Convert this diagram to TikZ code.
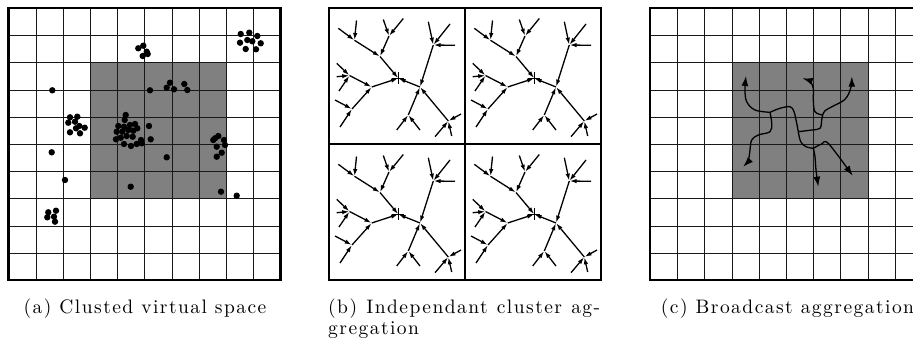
\documentclass[tikz,border=0pt]{standalone}
\usepackage{fontspec}
\usetikzlibrary{arrows.meta}
\newfontfamily\capfont{lmroman10-regular}[Extension=.otf,LetterSpace=7.5]
\tikzset{
  gridline/.style={line width=1.2pt, draw=black!90},
  frame/.style={line width=2.8pt, draw=black},
  midline/.style={line width=2.4pt, draw=black},
  tarrow/.style={-{Latex[length=7pt,width=4.4pt]}, line width=1.3pt, shorten >=0.3pt},
  carrow/.style={-{Latex[length=10pt,width=7pt]}, line width=1.3pt},
  cline/.style={line width=1.3pt},
  plusmark/.style={line width=0.7pt},
  caption/.style={inner sep=0pt, font=\capfont\fontsize{19.5}{22}\selectfont},
  dot/.style={fill=black}
}
\newcommand{\gridpanel}[2]{%
  \pgfmathsetmacro\gxa{round(#1+3*27.2)+0.5}
  \pgfmathsetmacro\gxb{round(#1+8*27.2)+0.5}
  \pgfmathsetmacro\gya{round(#2+2*27.2)+0.5}
  \pgfmathsetmacro\gyb{round(#2+7*27.2)+0.5}
  \fill[gray] (\gxa,\gya) rectangle (\gxb,\gyb);
  \foreach \i in {1,...,9} {
    \pgfmathsetmacro\gx{round(#1+\i*27.2)+0.5}
    \pgfmathsetmacro\gy{round(#2+\i*27.2)+0.5}
    \draw[gridline] (\gx,#2) -- (\gx,#2+272);
    \draw[gridline] (#1,\gy) -- (#1+272,\gy);
  }
  \draw[frame] (#1,#2) rectangle (#1+272,#2+272);
}
\newcommand{\clustertree}[1]{%
  \coordinate (#1C) at (69.3,70.3);
  \coordinate (#1J1) at (25.5,32.3);
  \coordinate (#1J2) at (51,48.5);
  \coordinate (#1J3) at (60,28);
  \coordinate (#1J4) at (20.5,67.5);
  \coordinate (#1J5) at (42.7,79);
  \coordinate (#1J6) at (23,101);
  \coordinate (#1J7) at (91,79);
  \coordinate (#1J8) at (104.3,37);
  \coordinate (#1J9) at (79.3,107);
  \coordinate (#1J10) at (119.3,113);
  \coordinate (#1L1) at (9.3,20.3);
  \coordinate (#1L2) at (27.5,12.5);
  \coordinate (#1L3) at (54.3,11.5);
  \coordinate (#1L4) at (74.3,10.5);
  \coordinate (#1L5) at (7.7,55.3);
  \coordinate (#1L6) at (7.7,68.7);
  \coordinate (#1L7) at (10,83);
  \coordinate (#1L8) at (6,92);
  \coordinate (#1L9) at (11,119);
  \coordinate (#1L10) at (99.3,13.7);
  \coordinate (#1L11) at (121,16);
  \coordinate (#1L12) at (126,37.3);
  \coordinate (#1L13) at (67.7,122);
  \coordinate (#1L14) at (91,122);
  \coordinate (#1L15) at (106,128.7);
  \coordinate (#1L16) at (122.7,128);
  \coordinate (#1L17) at (132,106);
  \draw[plusmark] (#1C) +(-6,0) -- +(6,0) (#1C) +(0,-6) -- +(0,6);
  \foreach \a/\b in {L1/J1,L2/J1,L3/J3,L4/J3,J1/J2,J3/J2,J2/C,
                     L5/J4,L6/J4,L7/J4,L8/J6,L9/J6,J4/J5,J6/J5,J5/C,
                     L10/J8,L11/J8,L12/J8,L13/J9,L14/J9,L15/J10,L16/J10,L17/J10,
                     J8/J7,J9/J7,J10/J7,J7/C}
    {\draw[tarrow] (#1\a) -- (#1\b);}
}
\begin{document}
\begin{tikzpicture}[x=1pt,y=-1pt]
\clip (0,0) rectangle (913,345);
\fill[white] (0,0) rectangle (913,345);

% ---------- panel (a) ----------
\gridpanel{8.5}{8}
\foreach \x/\y in {
  138.3/48.3,143.3/45.7,146.7/51.7,142.7/56,147.7/54,
  240.7/34,249.3/32.7,257.3/36,247.3/40,252.3/41.3,260.7/43.3,240/42.7,245.7/49,256/49.3,
  52.3/90.3,150/90.3,
  170/82.7,166.7/87.7,174/89.3,184.3/84,187.3/90,
  70/117.3,77.3/116.7,68.3/122.7,75/121.7,79.3/126,84.7/127.7,70/132.3,80/133.3,76/128.3,
  125.7/115,124.7/120,118.3/126,124/126.7,130/125,135/124,116.7/131.7,122.3/131.7,
  128.3/130,133.3/130.7,137.3/128.3,116/139.3,120.7/137.7,126.7/136,132.7/136.7,
  141/140,124/144,131/146,136.7/144,141.7/143.3,
  149/126,150.7/139.3,51.7/152.3,166.7/157.3,
  215/138.3,218.3/136,224/140,216.7/146.7,225/145,221.7/152.7,216.7/156.7,213.3/140,
  65/180,130.7/186.7,221/191.7,236.7/195.7,
  48.3/212.3,56/210.7,47.3/217.3,54/216.7,55/221.7}
  {\fill[dot] (\x,\y) circle (3.2);}

% ---------- panel (b) ----------
\begin{scope}[shift={(329,8)}]\clustertree{p}\end{scope}
\begin{scope}[shift={(465,8)}]\clustertree{q}\end{scope}
\begin{scope}[shift={(329,144)}]\clustertree{r}\end{scope}
\begin{scope}[shift={(465,144)}]\clustertree{s}\end{scope}
\draw[midline] (465,8) -- (465,280);
\draw[midline] (329,144) -- (601,144);
\draw[frame] (329,8) rectangle (601,280);

% ---------- panel (c) ----------
\gridpanel{650}{8}
\coordinate (Q1) at (770,112.3);
\coordinate (Q2) at (798.3,131.7);
\coordinate (Q3) at (813.3,148.3);
\coordinate (Q4) at (822.7,115);
\coordinate (A1) at (746,76);
\coordinate (A2) at (802.7,78.3);
\coordinate (A3) at (851.7,76.7);
\coordinate (A4) at (743.3,166.7);
\coordinate (A5) at (818.3,186.7);
\coordinate (A6) at (852.7,175.7);
\draw[carrow] plot[smooth,tension=0.6] coordinates {(Q1) (755,110) (746.7,101.7) (745,90) (A1)};
\draw[cline] plot[smooth,tension=0.6] coordinates {(Q1) (780,108.3) (790,106.7) (794,111.7) (796.7,123.3) (Q2)};
\draw[cline] plot[smooth,tension=0.6] coordinates {(Q2) (800.7,141.7) (806,146.7) (Q3)};
\draw[carrow] plot[smooth,tension=0.5] coordinates {(Q3) (821.7,144) (828.3,143.3) (A6)};
\draw[carrow] plot[smooth,tension=0.6] coordinates {(Q1) (771.7,123.3) (770,131.7) (758.3,135) (751.7,140) (750,150) (748.3,160) (A4)};
\draw[cline] plot[smooth,tension=0.6] coordinates {(Q2) (811.7,130) (820,128.3) (821.7,120) (Q4)};
\draw[carrow] plot[smooth,tension=0.6] coordinates {(Q4) (815,111.7) (813.3,100) (813.3,88.3) (810,81.7) (A2)};
\draw[carrow] plot[smooth,tension=0.6] coordinates {(Q4) (825,110.7) (833.3,106) (845,99.3) (850.7,88.3) (A3)};
\draw[carrow] plot[smooth,tension=0.6] coordinates {(Q3) (815,156.7) (816,170) (A5)};

% ---------- captions ----------
\node[caption, anchor=base] (capa) at (145,313) {(a) Clusted virtual space};
\node[caption, anchor=base west] (capb1) at (328,313) {\makebox[272pt][s]{(b) Independant cluster ag-}};
\node[caption, anchor=base west] (capb2) at (328,334) {gregation};
\node[caption, anchor=base] (capc) at (787.5,313) {(c) Broadcast aggregation};
\end{tikzpicture}
\end{document}
